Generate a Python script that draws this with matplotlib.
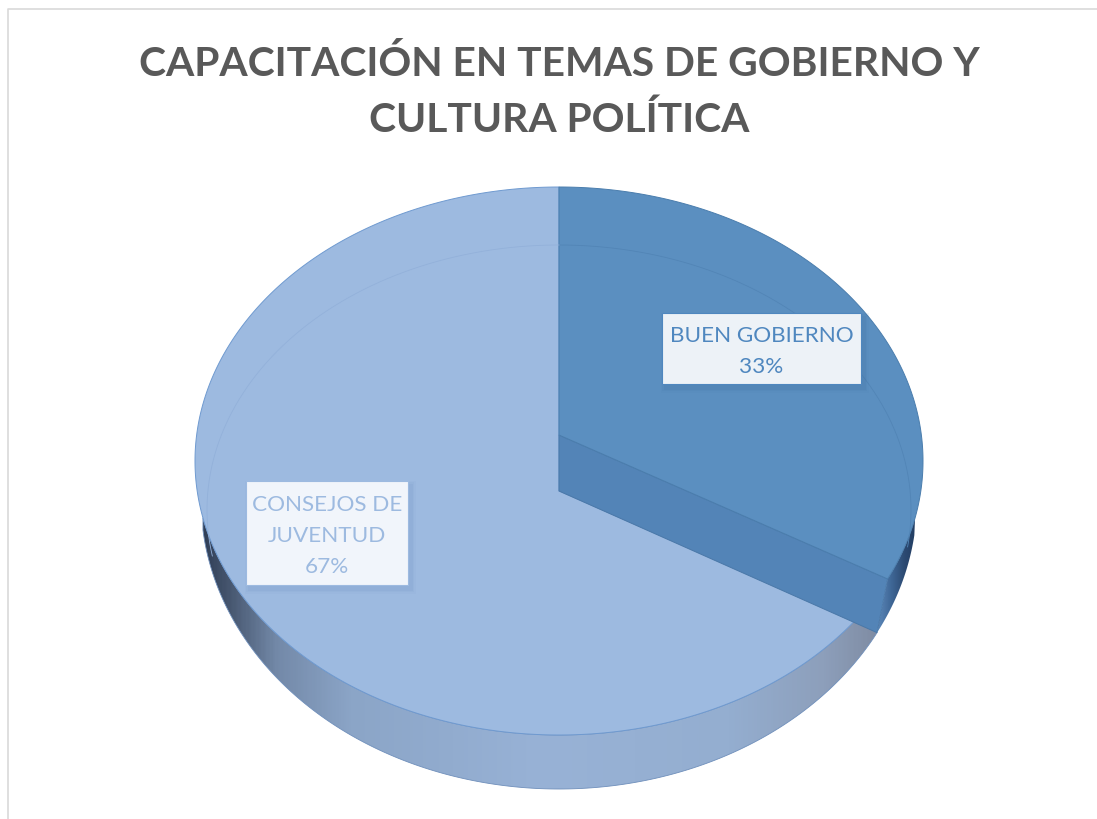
#!/usr/bin/env python3
import numpy as np
import matplotlib
matplotlib.use("Agg")
import matplotlib.pyplot as plt
from matplotlib.colors import LinearSegmentedColormap
from matplotlib.patches import Polygon, Rectangle

# --- Data ---
TITLE = "CAPACITACIÓN EN TEMAS DE GOBIERNO Y\nCULTURA POLÍTICA"
categories = ["BUEN GOBIERNO", "CONSEJOS DE\nJUVENTUD"]
shares = [33, 67]

# --- Config (pixel layout of the 3D pie) ---
W, H = 1097, 819
CX = 559
TOP = (CX, 461, 364, 274)      # top face ellipse: cx, cy, rx, ry
LOWER = (CX, 500, 358, 289)    # lower wall ellipse
INNER = (CX, 510, 352, 265)    # faint inner ring
APEX_LIGHT = (CX, 491)
APEX_DARK = (CX, 435)
RAY_RY = 290

DARK = "#5b8fc0"
DARK_WALL = "#5384b7"
LIGHT = "#9dbae0"
plt.rcParams['font.family'] = ['Lato', 'DejaVu Sans']


def arc(ell, t0, t1, n=200):
    # angles clockwise from the top of the ellipse
    cx, cy, rx, ry = ell
    t = np.linspace(t0, t1, n)
    return np.column_stack([cx + rx * np.sin(t), cy - ry * np.cos(t)])


def rim_angle(ell, apex, share):
    # where the slice boundary leaving the apex meets the ellipse
    cx, cy, rx, ry = ell
    a = 2 * np.pi * share / 100
    d = np.array([rx * np.sin(a), -RAY_RY * np.cos(a)])
    p = np.array([(apex[0] - cx) / rx, (apex[1] - cy) / ry])
    q = d / np.array([rx, ry])
    A, B, C = q @ q, 2 * p @ q, p @ p - 1
    s = (-B + np.sqrt(B * B - 4 * A * C)) / (2 * A)
    u = p + s * q
    return np.arctan2(u[0], -u[1])


fig = plt.figure(figsize=(W / 100, H / 100), dpi=100)
ax = fig.add_axes([0, 0, 1, 1])
ax.set_xlim(0, W)
ax.set_ylim(H, 0)
ax.axis("off")

# --- Frame ---
ax.plot([8, 8, W], [H, 9, 9], color="#d9d9d9", lw=1.2)

share = shares[0]
t_dark = rim_angle(TOP, APEX_DARK, share)
t_light = rim_angle(TOP, APEX_LIGHT, share)
t_low = rim_angle(LOWER, APEX_LIGHT, share)
t_left_top = np.radians(360 - 102)
t_left_low = np.radians(360 - 96)

# --- Side wall with gradient ---
wall_pts = np.vstack([arc(LOWER, t_left_low, t_low), arc(TOP, t_light, t_left_top)])
wall = Polygon(wall_pts, closed=True, fc="none", ec="#6f8fbb", lw=0.6, zorder=2)
ax.add_patch(wall)
wall_cmap = LinearSegmentedColormap.from_list("wall", [
    (0.00, "#2f3d55"), (0.04, "#46566f"), (0.11, "#7389a8"), (0.22, "#8ba5c7"),
    (0.50, "#98b2d6"), (0.78, "#94aed0"), (0.92, "#8d9fbb"), (1.00, "#7f8ca3")])
img = ax.imshow(np.linspace(0, 1, 400)[None, :], cmap=wall_cmap, aspect="auto",
                extent=[200, 880, H, 0], zorder=1)
img.set_clip_path(wall)
ax.set_xlim(0, W)
ax.set_ylim(H, 0)

# --- Right dark sliver ---
t_sliver = np.radians(102)
sliver_pts = np.vstack([arc(TOP, t_sliver, t_dark, 40), arc(LOWER, t_low, np.radians(97), 40)])
sliver = Polygon(sliver_pts, closed=True, fc="none", ec="none", zorder=3)
ax.add_patch(sliver)
sliver_cmap = LinearSegmentedColormap.from_list("sliver", ["#5a86b8", "#3f6796", "#2c4a72", "#1f3a5f"])
img2 = ax.imshow(np.linspace(0, 1, 100)[None, :], cmap=sliver_cmap, aspect="auto",
                 extent=[878, 918, H, 0], zorder=3)
img2.set_clip_path(sliver)
ax.set_xlim(0, W)
ax.set_ylim(H, 0)

# --- Top faces ---
light_pts = np.vstack([[APEX_LIGHT], arc(TOP, t_light, 2 * np.pi, 400)])
ax.add_patch(Polygon(light_pts, closed=True, fc=LIGHT, ec="#6f9ad0", lw=0.7, zorder=4))

wall_dark = np.vstack([[APEX_DARK], arc(TOP, t_dark, t_dark, 1),
                       arc(LOWER, t_low, t_low, 1), [APEX_LIGHT]])
ax.add_patch(Polygon(wall_dark, closed=True, fc=DARK_WALL, ec="#4a78a8", lw=0.7, zorder=5))

dark_pts = np.vstack([[APEX_DARK], arc(TOP, t_dark, 0, 200)])
ax.add_patch(Polygon(dark_pts, closed=True, fc=DARK, ec="#4a7dad", lw=0.7, zorder=6))

# --- Faint inner ring ---
ring_r = arc(INNER, 0, np.radians(98))
ring_l = arc(INNER, np.radians(360 - 100), 2 * np.pi)
ax.plot(ring_r[:, 0], ring_r[:, 1], color="#5285b6", lw=0.6, zorder=7)
ax.plot(ring_l[:, 0], ring_l[:, 1], color="#93b1da", lw=0.6, zorder=7)

# --- Labels ---
boxes = [(662, 313, 199, 71, "#edf2f7", "#4f87bf", "#3f6f9f"),
         (246, 481, 162, 104, "#f1f5fb", "#9dbae0", "#6f93c4")]
for cat, val, (x, y, w, h, fc, tc, sc) in zip(categories, shares, boxes):
    for grow, al in [(9, .06), (6, .08), (3, .12)]:
        ax.add_patch(Rectangle((x + 3 - grow / 2, y + 4 - grow / 2), w + grow, h + grow,
                               fc=sc, ec="none", alpha=al, zorder=8))
    ax.add_patch(Rectangle((x, y), w, h, fc=fc, ec=tc, lw=0.8, zorder=9))
    ax.text(x + w / 2, y + h / 2 + 3, f"{cat}\n{val}%", color=tc, fontsize=16.2,
            ha="center", va="center", linespacing=1.7, zorder=10)

# --- Title ---
ax.text(559, 92, TITLE, color="#595959", fontsize=29.3, fontweight="bold",
        ha="center", va="center", linespacing=1.62)

fig.savefig("out.png", dpi=100)
